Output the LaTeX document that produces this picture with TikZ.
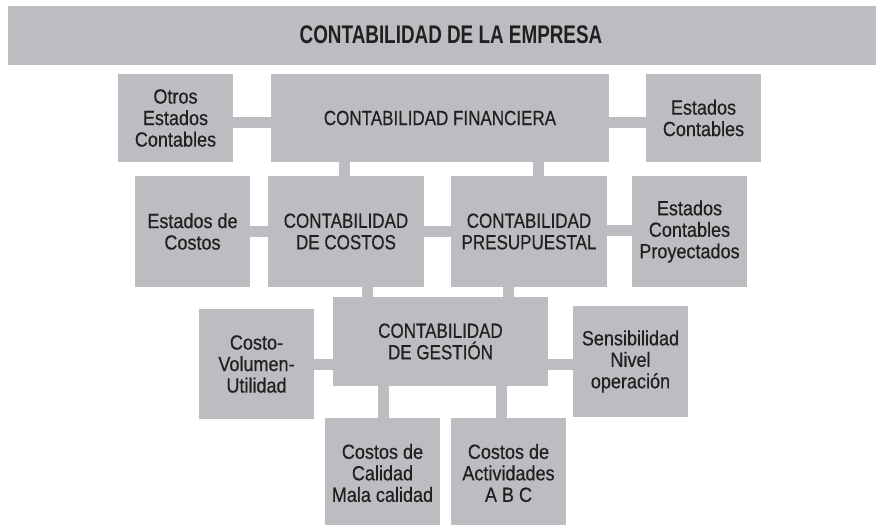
\documentclass[tikz,border=0pt]{standalone}
\usepackage{fontspec}
\setmainfont{Liberation Sans}[FakeStretch=0.88,FakeBold=0.5]
\newfontfamily\capsfont{Liberation Sans}[FakeStretch=0.83,FakeBold=0.5]
\newfontfamily\titlefont{Liberation Sans}[FakeStretch=0.74]
\definecolor{boxgrey}{HTML}{BCBDC1}
\definecolor{txt}{HTML}{231F20}
\begin{document}
\begin{tikzpicture}[x=1pt,y=-1pt,
  box/.style={fill=boxgrey,draw=none,inner sep=0pt,align=center,text=txt,
    font=\fontsize{20.5}{21.5}\selectfont},
  capsbox/.style={box,font=\capsfont\fontsize{20.5}{21.5}\selectfont},
  conn/.style={draw=boxgrey,line width=11pt}]
\useasboundingbox (0,0) rectangle (876,525);
% title
\node[box,minimum width=868,minimum height=59] (title) at (442,35.5) {};
\node[text=txt,inner sep=0pt,font=\titlefont\bfseries\fontsize{25.5}{28}\selectfont] (ttext) at (451,35) {CONTABILIDAD DE LA EMPRESA};
% row 1
\node[box,minimum width=115,minimum height=88] (otros) at (175.5,118) {Otros\\Estados\\Contables};
\node[capsbox,minimum width=338,minimum height=88] (fin) at (440,118) {\raisebox{-3pt}{CONTABILIDAD FINANCIERA}};
\node[box,minimum width=115,minimum height=88] (estc) at (703.5,118) {Estados\\Contables};
% row 2
\node[box,minimum width=115,minimum height=111] (edc) at (192.5,231.5) {Estados de\\Costos};
\node[capsbox,minimum width=156,minimum height=111] (costos) at (346,231.5) {CONTABILIDAD\\DE COSTOS};
\node[capsbox,minimum width=156,minimum height=111] (presup) at (529,231.5) {CONTABILIDAD\\PRESUPUESTAL};
\node[box,minimum width=115,minimum height=111] (proy) at (689.5,231.5) {Estados\\Contables\\Proyectados};
% row 3
\node[capsbox,minimum width=215,minimum height=89] (gestion) at (440.5,341.5) {CONTABILIDAD\\DE GESTIÓN};
\node[box,minimum width=115,minimum height=110] (cvu) at (256.5,364) {Costo-\\Volumen-\\Utilidad};
\node[box,minimum width=115,minimum height=111] (sens) at (630.5,361.5) {Sensibilidad\\Nivel\\operación};
% row 4
\node[box,minimum width=115,minimum height=110] (calidad) at (382.5,473) {Costos de\\Calidad\\Mala calidad};
\node[box,minimum width=115,minimum height=110] (act) at (508.5,473) {Costos de\\Actividades\\A B C};
% connectors
\draw[conn] (otros.east |- 0,122) -- (fin.west |- 0,122);
\draw[conn] (fin.east |- 0,122) -- (estc.west |- 0,122);
\draw[conn] (fin.south -| 344.7,0) -- (costos.north -| 344.7,0);
\draw[conn] (fin.south -| 538.7,0) -- (presup.north -| 538.7,0);
\draw[conn] (edc.east |- 0,231.4) -- (costos.west |- 0,231.4);
\draw[conn] (costos.east |- 0,231.4) -- (presup.west |- 0,231.4);
\draw[conn] (presup.east |- 0,230.5) -- (proy.west |- 0,230.5);
\draw[conn] (costos.south -| 367.8,0) -- (gestion.north -| 367.8,0);
\draw[conn] (presup.south -| 508.8,0) -- (gestion.north -| 508.8,0);
\draw[conn] (cvu.east |- 0,364.5) -- (gestion.west |- 0,364.5);
\draw[conn] (gestion.east |- 0,364.5) -- (sens.west |- 0,364.5);
\draw[conn] (gestion.south -| 383.8,0) -- (calidad.north -| 383.8,0);
\draw[conn] (gestion.south -| 501.3,0) -- (act.north -| 501.3,0);
\end{tikzpicture}
\end{document}
